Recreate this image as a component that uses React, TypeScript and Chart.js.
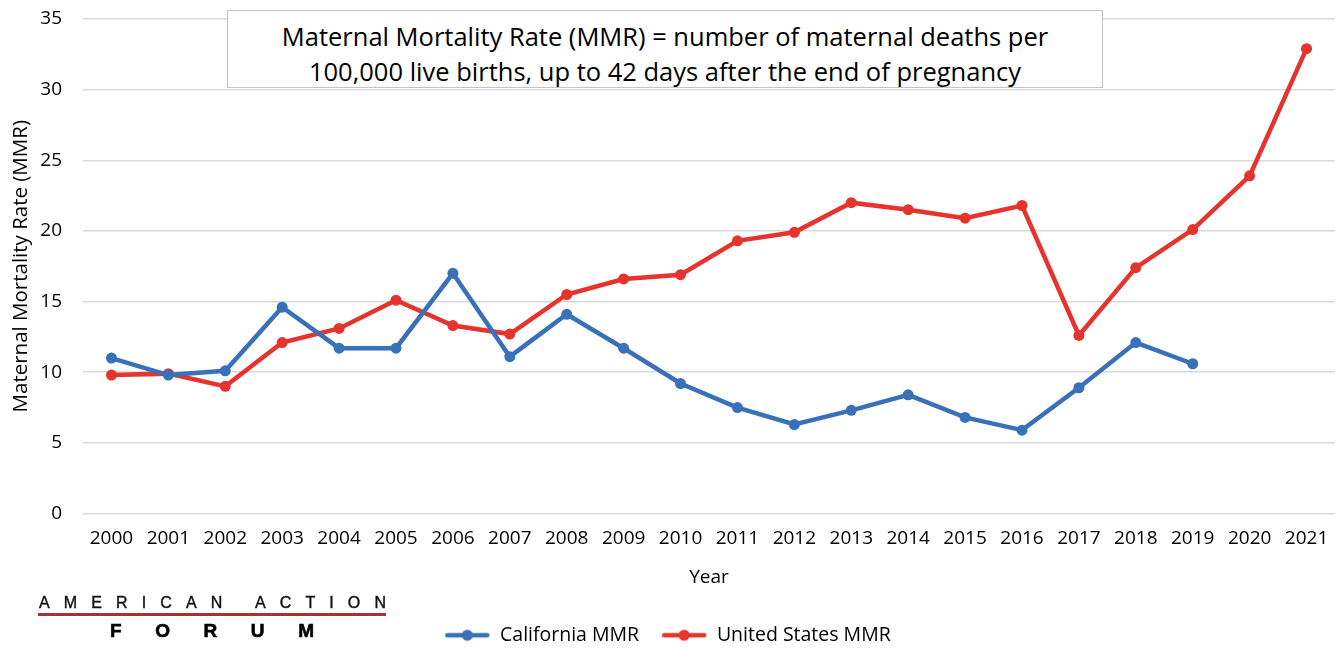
import React, { useEffect, useRef } from "react";
import { Chart, registerables } from "chart.js";

Chart.register(...registerables);

const years = ["2000","2001","2002","2003","2004","2005","2006","2007","2008","2009","2010","2011","2012","2013","2014","2015","2016","2017","2018","2019","2020","2021"];
const californiaMMR = [11.0, 9.8, 10.1, 14.6, 11.7, 11.7, 17.0, 11.1, 14.1, 11.7, 9.2, 7.5, 6.3, 7.3, 8.4, 6.8, 5.9, 8.9, 12.1, 10.6, null, null];
const unitedStatesMMR = [9.8, 9.9, 9.0, 12.1, 13.1, 15.1, 13.3, 12.7, 15.5, 16.6, 16.9, 19.3, 19.9, 22.0, 21.5, 20.9, 21.8, 12.6, 17.4, 20.1, 23.9, 32.9];
const yTicks = [0, 5, 10, 15, 20, 25, 30, 35];

const BLUE = "#3871b9";
const RED = "#e6332d";
const FONT = "'Open Sans', 'Noto Sans', sans-serif";

function legendIcon(color: string): HTMLCanvasElement {
  const c = document.createElement("canvas");
  c.width = 46;
  c.height = 14;
  const ctx = c.getContext("2d")!;
  ctx.strokeStyle = color;
  ctx.lineWidth = 4.5;
  ctx.lineCap = "round";
  ctx.beginPath();
  ctx.moveTo(3, 7);
  ctx.lineTo(43, 7);
  ctx.stroke();
  ctx.fillStyle = color;
  ctx.beginPath();
  ctx.arc(23, 7, 5.5, 0, Math.PI * 2);
  ctx.fill();
  return c;
}

export default function App() {
  const ref = useRef<HTMLCanvasElement | null>(null);

  useEffect(() => {
    if (!ref.current) return;
    const blueIcon = legendIcon(BLUE);
    const redIcon = legendIcon(RED);
    const chart = new Chart(ref.current, {
      type: "line",
      data: {
        labels: years,
        datasets: [
          {
            label: "California MMR",
            data: californiaMMR,
            borderColor: BLUE,
            backgroundColor: BLUE,
            borderWidth: 4.5,
            pointRadius: 5.5,
            pointBackgroundColor: BLUE,
            pointBorderWidth: 0,
            spanGaps: false,
          },
          {
            label: "United States MMR",
            data: unitedStatesMMR,
            borderColor: RED,
            backgroundColor: RED,
            borderWidth: 4.5,
            pointRadius: 5.5,
            pointBackgroundColor: RED,
            pointBorderWidth: 0,
          },
        ],
      },
      options: {
        responsive: false,
        animation: false,
        layout: { padding: { top: 19, right: 9, bottom: -5, left: 0 } },
        elements: { line: { tension: 0 }, point: { pointStyle: "circle" } },
        plugins: {
          tooltip: { enabled: false },
          legend: {
            position: "bottom",
            labels: {
              usePointStyle: true,
              pointStyleWidth: 46,
              padding: 22,
              color: "#000",
              font: { family: FONT, size: 19.5 },
              generateLabels: (ch: any) =>
                ch.data.datasets.map((ds: any, i: number) => ({
                  text: ds.label,
                  fillStyle: ds.borderColor,
                  strokeStyle: ds.borderColor,
                  lineWidth: 0,
                  pointStyle: i === 0 ? blueIcon : redIcon,
                  hidden: false,
                  datasetIndex: i,
                  fontColor: "#000",
                })),
            },
          },
        },
        scales: {
          x: {
            offset: true,
            grid: { display: false, drawTicks: false },
            border: { display: false },
            ticks: { color: "#000", font: { family: FONT, size: 19 }, padding: 14, maxRotation: 0, autoSkip: false },
            title: { display: true, text: "Year", color: "#000", font: { family: FONT, size: 19 }, padding: { top: 0, bottom: 15 } },
            afterFit: (scale: any) => { scale.height = 90; },
          },
          y: {
            min: 0,
            max: 35,
            afterBuildTicks: (scale: any) => { scale.ticks = yTicks.map((v) => ({ value: v })); },
            grid: { color: "#d9d9d9", lineWidth: 1.5, drawTicks: false },
            border: { display: false },
            ticks: { color: "#000", font: { family: FONT, size: 19 }, padding: 21 },
            title: { display: true, text: "Maternal Mortality Rate (MMR)", color: "#000", font: { family: FONT, size: 20.5 }, padding: { top: 9, bottom: 0 } },
            afterFit: (scale: any) => {
              scale.width = 83;
              scale.paddingTop = 0;
              scale.paddingBottom = 0;
            },
          },
        },
      },
    });
    return () => chart.destroy();
  }, []);

  const top = "AMERICAN ACTION".split("");
  const bottom = "FORUM".split("");

  return (
    <div style={{ position: "fixed", left: 0, top: 0, width: 1344, height: 650, background: "#fff", overflow: "hidden" }}>
      <canvas ref={ref} width={1344} height={650} style={{ position: "absolute", left: 0, top: 0, width: 1344, height: 650 }} />
      <div
        style={{
          position: "absolute",
          left: 227,
          top: 10,
          width: 876,
          height: 78,
          boxSizing: "border-box",
          border: "1.5px solid #c4c4c4",
          background: "#fff",
          fontFamily: FONT,
          fontSize: 25.5,
          lineHeight: "35px",
          color: "#000",
          textAlign: "center",
          paddingTop: 8,
          whiteSpace: "nowrap",
        }}
      >
        <div>Maternal Mortality Rate (MMR) = number of maternal deaths per</div>
        <div>100,000 live births, up to 42 days after the end of pregnancy</div>
      </div>
      <div style={{ position: "absolute", left: 39, top: 594, width: 347, display: "flex", justifyContent: "space-between", fontFamily: "'Liberation Sans', Arial, sans-serif", fontSize: 16, lineHeight: "18px", color: "#111", WebkitTextStroke: "0.4px #111" }}>
        {top.map((ch, i) => (
          <span key={i}>{ch === " " ? "\u00a0" : ch}</span>
        ))}
      </div>
      <div style={{ position: "absolute", left: 38, top: 613, width: 348, height: 3, background: "#a8302f" }} />
      <div style={{ position: "absolute", left: 110, top: 621, width: 204, display: "flex", justifyContent: "space-between", fontFamily: "'Liberation Sans', Arial, sans-serif", fontWeight: 900, fontSize: 19, lineHeight: "20px", color: "#000", WebkitTextStroke: "0.6px #000" }}>
        {bottom.map((ch, i) => (
          <span key={i}>{ch}</span>
        ))}
      </div>
    </div>
  );
}
